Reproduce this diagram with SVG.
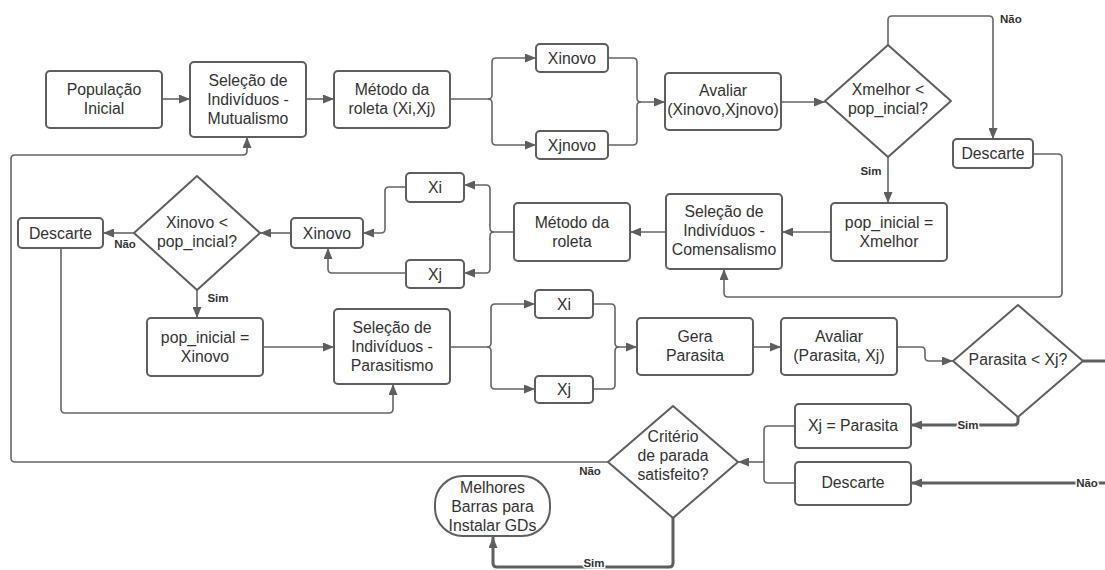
<svg xmlns="http://www.w3.org/2000/svg" width="1105" height="570" viewBox="0 0 1105 570">
<style>
.box{fill:#fff;stroke:#5f5f5f;stroke-width:2}
.t{font-family:"Liberation Sans",Arial,sans-serif;font-size:15.8px;fill:#333;text-anchor:middle}
.c{fill:none;stroke:#666;stroke-width:1.6;stroke-linejoin:round}
.ck{fill:none;stroke:#5f5f5f;stroke-width:3;stroke-linejoin:round}
.lb{font-family:"Liberation Sans",Arial,sans-serif;font-size:11.5px;font-weight:bold;fill:#333;stroke:#fff;stroke-width:3;paint-order:stroke}
</style>
<defs>
<marker id="a" markerUnits="userSpaceOnUse" markerWidth="11" markerHeight="9" refX="11" refY="4.5" orient="auto"><path d="M0,0 L11,4.5 L0,9 z" fill="#5f5f5f"/></marker>
</defs>
<g id="connectors">
<path class="c" d="M162,99 H190" marker-end="url(#a)"/>
<path class="c" d="M306,99 H334" marker-end="url(#a)"/>
<path class="c" d="M450,99 H488 Q492,99 492,95 V62 Q492,58 496,58 H536" marker-end="url(#a)"/>
<path class="c" d="M488,99 Q492,99 492,103 V141 Q492,145 496,145 H536" marker-end="url(#a)"/>
<path class="c" d="M608,58 H633 Q637,58 637,62 V98 Q637,102 641,102 H665" marker-end="url(#a)"/>
<path class="c" d="M608,145 H633 Q637,145 637,141 V106 Q637,102 641,102"/>
<path class="c" d="M781,102 H825" marker-end="url(#a)"/>
<path class="c" d="M888,45 V20 Q888,16 892,16 H989 Q993,16 993,20 V139" marker-end="url(#a)"/>
<path class="c" d="M888,157 V203" marker-end="url(#a)"/>
<path class="c" d="M1033,154 H1058 Q1062,154 1062,158 V293 Q1062,297 1058,297 H728 Q724,297 724,293 V269" marker-end="url(#a)"/>
<path class="c" d="M831,232 H782" marker-end="url(#a)"/>
<path class="c" d="M666,232 H630" marker-end="url(#a)"/>
<path class="c" d="M514,232 H494 Q490,232 490,228 V189 Q490,185 486,185 H464" marker-end="url(#a)"/>
<path class="c" d="M494,232 Q490,232 490,236 V269 Q490,273 486,273 H464" marker-end="url(#a)"/>
<path class="c" d="M406,187 H389 Q385,187 385,191 V229 Q385,233 381,233 H363" marker-end="url(#a)"/>
<path class="c" d="M406,273 H332 Q328,273 328,269 V248" marker-end="url(#a)"/>
<path class="c" d="M291,233 H260" marker-end="url(#a)"/>
<path class="c" d="M134,233 H103" marker-end="url(#a)"/>
<path class="c" d="M197,290 V318" marker-end="url(#a)"/>
<path class="c" d="M263,347 H334" marker-end="url(#a)"/>
<path class="c" d="M61,248 V409 Q61,413 65,413 H389 Q393,413 393,409 V384" marker-end="url(#a)"/>
<path class="c" d="M450,347 H487 Q491,347 491,343 V308 Q491,304 495,304 H535" marker-end="url(#a)"/>
<path class="c" d="M487,347 Q491,347 491,351 V385 Q491,389 495,389 H535" marker-end="url(#a)"/>
<path class="c" d="M593,304 H611 Q615,304 615,308 V343 Q615,347 619,347 H637" marker-end="url(#a)"/>
<path class="c" d="M593,389 H611 Q615,389 615,385 V351 Q615,347 619,347"/>
<path class="c" d="M753,347 H781" marker-end="url(#a)"/>
<path class="c" d="M897,347 H921 Q925,347 925,351 V357 Q925,361 929,361 H953" marker-end="url(#a)"/>
<path class="ck" d="M1083,361 H1110"/>
<path class="ck" d="M1018,417 V421 Q1018,425 1014,425 H911" marker-end="url(#a)"/>
<path class="ck" d="M1110,483 H911" marker-end="url(#a)"/>
<path class="c" d="M795,426 H768 Q764,426 764,430 V479 Q764,483 768,483 H795"/>
<path class="c" d="M764,462 H738" marker-end="url(#a)"/>
<path class="c" d="M608,462 H15 Q11,462 11,458 V159 Q11,155 15,155 H243 Q247,155 247,151 V137" marker-end="url(#a)"/>
<path class="ck" d="M673,517 V563 Q673,567 669,567 H497 Q493,567 493,563 V537" marker-end="url(#a)"/>
<text class="lb" x="1000" y="23">Não</text>
<text class="lb" x="871" y="175" text-anchor="middle">Sim</text>
<text class="lb" x="125" y="248" text-anchor="middle">Não</text>
<text class="lb" x="218" y="302" text-anchor="middle">Sim</text>
<text class="lb" x="968" y="429" text-anchor="middle">Sim</text>
<text class="lb" x="1087" y="487" text-anchor="middle">Não</text>
<text class="lb" x="590" y="475" text-anchor="middle">Não</text>
<text class="lb" x="594" y="567" text-anchor="middle">Sim</text>
</g>
<g id="populacao"><rect class="box" x="46" y="71" width="116" height="57" rx="4"/><text class="t" x="104" y="95">População</text><text class="t" x="104" y="114">Inicial</text></g>
<g id="selecao-mutualismo"><rect class="box" x="190" y="62" width="116" height="75" rx="4"/><text class="t" x="248" y="86">Seleção de</text><text class="t" x="248" y="105">Indivíduos -</text><text class="t" x="248" y="124">Mutualismo</text></g>
<g id="roleta1"><rect class="box" x="334" y="71" width="116" height="57" rx="4"/><text class="t" x="392" y="95">Método da</text><text class="t" x="392" y="114">roleta (Xi,Xj)</text></g>
<g id="xinovo1"><rect class="box" x="536" y="44" width="72" height="28" rx="4"/><text class="t" x="572" y="64">Xinovo</text></g>
<g id="xjnovo1"><rect class="box" x="536" y="131" width="72" height="28" rx="4"/><text class="t" x="572" y="151">Xjnovo</text></g>
<g id="avaliar1"><rect class="box" x="665" y="73" width="116" height="57" rx="4"/><text class="t" x="723" y="96">Avaliar</text><text class="t" x="723" y="115">(Xinovo,Xjnovo)</text></g>
<g id="dec-xmelhor"><path class="box" d="M888,45 L951,101 L888,157 L825,101 Z" stroke-linejoin="round"/><text class="t" x="888" y="95">Xmelhor &lt;</text><text class="t" x="888" y="114">pop_incial?</text></g>
<g id="descarte1"><rect class="box" x="953" y="139" width="80" height="29" rx="4"/><text class="t" x="993" y="159">Descarte</text></g>
<g id="pop-xmelhor"><rect class="box" x="831" y="203" width="116" height="58" rx="4"/><text class="t" x="889" y="228">pop_inicial =</text><text class="t" x="889" y="247">Xmelhor</text></g>
<g id="selecao-comensalismo"><rect class="box" x="666" y="194" width="116" height="75" rx="4"/><text class="t" x="724" y="217">Seleção de</text><text class="t" x="724" y="236">Indivíduos -</text><text class="t" x="724" y="255">Comensalismo</text></g>
<g id="roleta2"><rect class="box" x="514" y="203" width="116" height="58" rx="4"/><text class="t" x="572" y="228">Método da</text><text class="t" x="572" y="247">roleta</text></g>
<g id="xi2"><rect class="box" x="406" y="173" width="58" height="29" rx="4"/><text class="t" x="435" y="193">Xi</text></g>
<g id="xj2"><rect class="box" x="406" y="260" width="58" height="28" rx="4"/><text class="t" x="435" y="280">Xj</text></g>
<g id="xinovo2"><rect class="box" x="291" y="218" width="72" height="30" rx="4"/><text class="t" x="327" y="239">Xinovo</text></g>
<g id="dec-xinovo"><path class="box" d="M197,176 L260,233 L197,290 L134,233 Z" stroke-linejoin="round"/><text class="t" x="197" y="228">Xinovo &lt;</text><text class="t" x="197" y="247">pop_incial?</text></g>
<g id="descarte2"><rect class="box" x="18" y="218" width="85" height="30" rx="4"/><text class="t" x="60.5" y="239">Descarte</text></g>
<g id="pop-xinovo"><rect class="box" x="147" y="318" width="116" height="58" rx="4"/><text class="t" x="205" y="343">pop_inicial =</text><text class="t" x="205" y="362">Xinovo</text></g>
<g id="selecao-parasitismo"><rect class="box" x="334" y="309" width="116" height="75" rx="4"/><text class="t" x="392" y="333">Seleção de</text><text class="t" x="392" y="352">Indivíduos -</text><text class="t" x="392" y="371">Parasitismo</text></g>
<g id="xi3"><rect class="box" x="535" y="290" width="58" height="28" rx="4"/><text class="t" x="564" y="310">Xi</text></g>
<g id="xj3"><rect class="box" x="535" y="376" width="58" height="27" rx="4"/><text class="t" x="564" y="395">Xj</text></g>
<g id="gera-parasita"><rect class="box" x="637" y="318" width="116" height="57" rx="4"/><text class="t" x="695" y="342">Gera</text><text class="t" x="695" y="361">Parasita</text></g>
<g id="avaliar2"><rect class="box" x="781" y="318" width="116" height="57" rx="4"/><text class="t" x="839" y="342">Avaliar</text><text class="t" x="839" y="361">(Parasita, Xj)</text></g>
<g id="dec-parasita"><path class="box" d="M1018,305 L1083,361 L1018,417 L953,361 Z" stroke-linejoin="round"/><text class="t" x="1018" y="365">Parasita &lt; Xj?</text></g>
<g id="xj-parasita"><rect class="box" x="795" y="404" width="116" height="44" rx="4"/><text class="t" x="853" y="431">Xj = Parasita</text></g>
<g id="descarte3"><rect class="box" x="795" y="462" width="116" height="43" rx="4"/><text class="t" x="853" y="488">Descarte</text></g>
<g id="dec-criterio"><path class="box" d="M673,406 L738,462 L673,518 L608,462 Z" stroke-linejoin="round"/><text class="t" x="673" y="442">Critério</text><text class="t" x="673" y="461">de parada</text><text class="t" x="673" y="480">satisfeito?</text></g>
<g id="melhores"><rect class="box" x="435" y="476" width="115" height="60" rx="28"/><text class="t" x="492.5" y="493">Melhores</text><text class="t" x="492.5" y="512">Barras para</text><text class="t" x="492.5" y="531">Instalar GDs</text></g>
</svg>
